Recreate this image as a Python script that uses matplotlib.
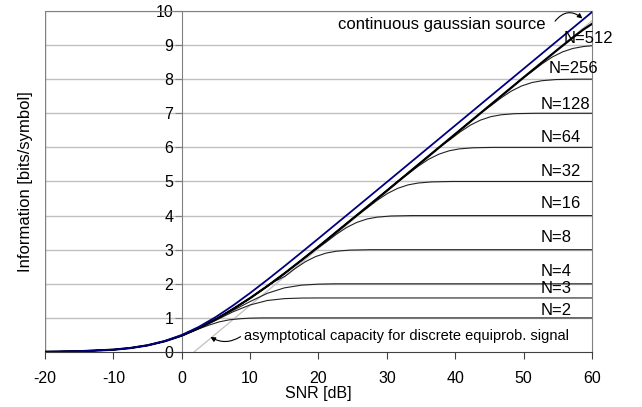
#информация vs SNR для дискретных сигналов
import numpy as np
import matplotlib
matplotlib.use("Agg")
import matplotlib.pyplot as plt

plt.rcParams['font.family'] = ['Liberation Sans', 'DejaVu Sans']
plt.rcParams['axes.unicode_minus'] = False

# low SNR part, shared by every curve
snr_low = [-20, -15, -10, -7.5, -5, -2.5, 0]
info_low = [0.007, 0.022, 0.068, 0.117, 0.195, 0.315, 0.48]

# continuous gaussian source
snr_gauss = [-20, -15, -10, -7.5, -5, -2.5, 0, 2.5, 5, 7.5, 10, 12.5, 15, 17.5, 20, 25, 30, 40, 50, 60]
info_gauss = [0.007, 0.022, 0.069, 0.118, 0.198, 0.322, 0.50, 0.737, 1.029, 1.364, 1.730, 2.115,
              2.513, 2.919, 3.329, 4.155, 4.983, 6.644, 8.305, 9.966]

# thick black envelope (largest alphabet)
snr_env = [2.5, 5, 7.5, 10, 12.5, 15, 17.5, 20, 25, 30, 40, 50, 55, 57.2, 58.7, 60]
info_env = [0.70, 0.96, 1.26, 1.58, 1.93, 2.30, 2.69, 3.09, 3.91, 4.73, 6.39, 8.05, 8.87, 9.22, 9.45, 9.62]

# asymptote for discrete equiprobable signal
snr_asym = [1.8, 60]
info_asym = [0.0, 9.71]

# knee parts of each N curve
knee = {
    2: ([2.5, 4, 5.5, 7, 8.5, 10, 12, 60],
        [0.68, 0.79, 0.885, 0.945, 0.975, 0.993, 1.0, 1.0]),
    3: ([2.5, 5, 7.5, 10, 12.5, 15, 17.5, 20, 60],
        [0.69, 0.93, 1.18, 1.38, 1.51, 1.565, 1.582, 1.585, 1.585]),
    4: ([2.5, 5, 7.5, 10, 12.5, 15, 17.5, 20, 22.5, 60],
        [0.70, 0.95, 1.22, 1.48, 1.72, 1.88, 1.96, 1.99, 2.0, 2.0]),
    8: ([13.6, 15.1, 16.6, 18.1, 19.6, 21.1, 22.6, 24.6, 27.6, 60],
        [2.07, 2.22, 2.45, 2.65, 2.80, 2.90, 2.955, 2.988, 3.0, 3.0]),
    16: ([19.6, 21.1, 22.6, 24.1, 25.6, 27.1, 28.6, 30.6, 33.6, 60],
         [3.01, 3.22, 3.45, 3.65, 3.80, 3.90, 3.955, 3.988, 4.0, 4.0]),
    32: ([25.6, 27.1, 28.6, 30.1, 31.6, 33.1, 34.6, 36.6, 39.6, 60],
         [4.00, 4.22, 4.45, 4.65, 4.80, 4.90, 4.955, 4.988, 5.0, 5.0]),
    64: ([31.6, 33.1, 34.6, 36.1, 37.6, 39.1, 40.6, 42.6, 45.6, 60],
         [5.01, 5.22, 5.45, 5.65, 5.80, 5.90, 5.955, 5.988, 6.0, 6.0]),
    128: ([37.7, 39.2, 40.7, 42.2, 43.7, 45.2, 46.7, 48.7, 51.7, 60],
          [6.01, 6.22, 6.45, 6.65, 6.80, 6.90, 6.955, 6.988, 7.0, 7.0]),
    256: ([43.7, 45.2, 46.7, 48.2, 49.7, 51.2, 52.7, 54.7, 57.7, 60],
          [7.01, 7.22, 7.45, 7.65, 7.80, 7.90, 7.955, 7.988, 8.0, 8.0]),
    512: ([49.7, 51.2, 52.7, 54.2, 55.7, 57.2, 58.7, 60],
          [8.01, 8.22, 8.45, 8.65, 8.80, 8.90, 8.955, 8.98]),
}

# label positions
label_x = {2: 52.5, 3: 52.5, 4: 52.5, 8: 52.5, 16: 52.5, 32: 52.5, 64: 52.5, 128: 52.5, 256: 53.6, 512: 55.9}
label_y = {2: 1.23, 3: 1.87, 4: 2.37, 8: 3.35, 16: 4.36, 32: 5.29, 64: 6.28, 128: 7.27, 256: 8.3, 512: 9.2}

fig = plt.figure(figsize=(6.42, 4.07), dpi=100)
ax = fig.add_axes([0.0701, 0.1351, 0.852, 0.838])

# grid
for yy in range(1, 11):
    ax.axhline(yy, color='#c0c0c0', lw=1.0, zorder=0)

env_x = snr_low + snr_env
env_y = info_low + info_env

ax.plot(snr_asym, info_asym, color='#c0c0c0', lw=0.9, zorder=1)

for n, (kx, ky) in knee.items():
    bx = [x for x in env_x if x < kx[0]]
    by = [y for x, y in zip(env_x, env_y) if x < kx[0]]
    ax.plot(bx + kx, by + ky, color='#222222', lw=0.8, zorder=2)
    ax.text(label_x[n], label_y[n], 'N=%d' % n, fontsize=12, va='center', ha='left', zorder=5)

ax.plot(env_x, env_y, color='black', lw=1.6, zorder=3)
ax.plot(snr_gauss, info_gauss, color='#000080', lw=1.3, zorder=4)

ax.text(22.8, 9.59, 'continuous gaussian source', fontsize=12, va='center', ha='left')
ax.annotate('', xy=(58.6, 9.78), xytext=(54.6, 9.7),
            arrowprops=dict(arrowstyle='-|>', color='black', lw=0.8, mutation_scale=7,
                            connectionstyle='arc3,rad=-0.5', shrinkA=0, shrinkB=0))
ax.text(9.05, 0.48, 'asymptotical capacity for discrete equiprob. signal', fontsize=10.5, va='center', ha='left')
ax.annotate('', xy=(4.2, 0.44), xytext=(8.6, 0.45),
            arrowprops=dict(arrowstyle='-|>', color='black', lw=0.8, mutation_scale=7,
                            connectionstyle='arc3,rad=-0.3', shrinkA=0, shrinkB=0))

ax.set_xlim(-20, 60)
ax.set_ylim(0, 10)
ax.set_xticks(range(-20, 61, 10))
ax.set_yticks(range(0, 11))

ax.spines['left'].set_position(('data', 0))
ax.spines['left'].set_color('#808080')
ax.spines['bottom'].set_color('#404040')
ax.spines['top'].set_color('#808080')
ax.spines['right'].set_color('#808080')
ax.axvline(-20, color='#808080', lw=1.0, zorder=0)

ax.tick_params(axis='y', direction='out', length=5, color='#808080', labelsize=11.5, pad=1)
ax.tick_params(axis='x', direction='out', length=5, color='#404040', labelsize=11.5, pad=8.5)

ax.set_xlabel('SNR [dB]', fontsize=11.5)
ax.set_ylabel('Information [bits/symbol]', fontsize=12)
ax.xaxis.set_label_coords(0.5, -0.1)
ax.yaxis.set_label_coords(-0.022, 0.5)

fig.savefig('out.png', dpi=100)
